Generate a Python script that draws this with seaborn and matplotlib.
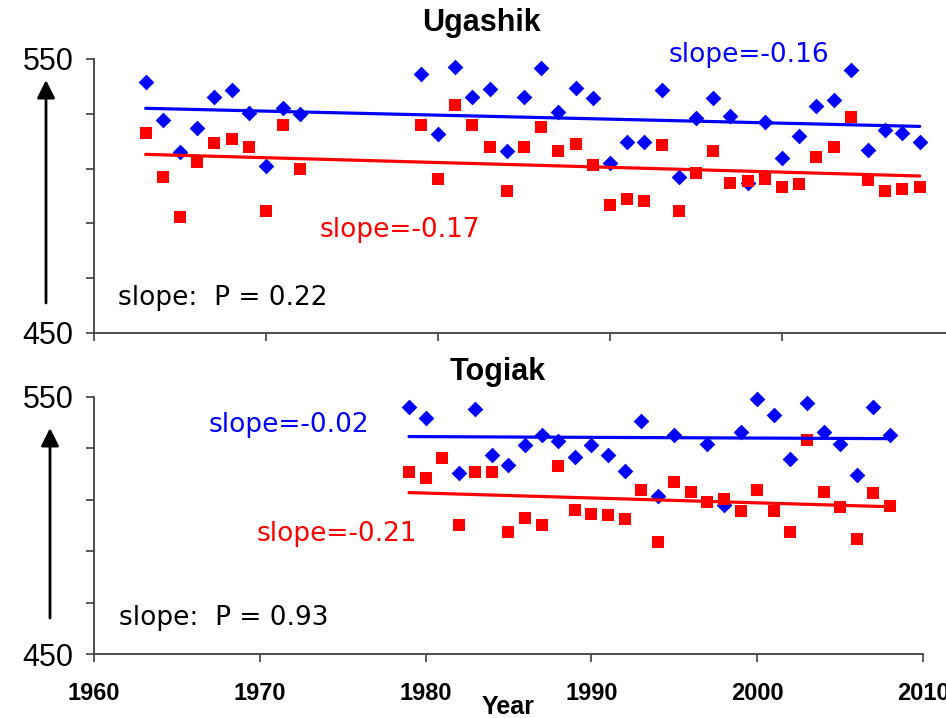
import matplotlib.pyplot as plt
import numpy as np
import pandas as pd
import seaborn as sns

# Ugashik (top panel)
ug_years = [1963, 1964, 1965, 1966, 1967, 1968, 1969, 1970, 1971, 1972,
            1979, 1980, 1981, 1982, 1983, 1984, 1985, 1986, 1987, 1988,
            1989, 1990, 1991, 1992, 1993, 1994, 1995, 1996, 1997, 1998,
            1999, 2000, 2001, 2002, 2003, 2004, 2005, 2006, 2007, 2008]
ug_blue = [541.5, 527.7, 516.0, 525.0, 536.3, 538.7, 530.4, 510.8, 532.0, 530.0,
           544.5, 522.6, 547.2, 536.3, 539.2, 516.5, 536.3, 546.6, 530.8, 539.3,
           535.6, 511.9, 519.6, 519.6, 538.6, 507.0, 528.4, 535.6, 529.3, 504.6,
           526.9, 513.8, 521.9, 532.8, 535.0, 546.0, 516.8, 524.1, 523.1, 519.6]
ug_red = [522.9, 507.0, 492.4, 512.5, 519.2, 520.8, 517.8, 494.5, 525.8, 509.7,
          525.8, 506.1, 533.1, 525.8, 517.8, 501.8, 517.8, 525.2, 516.4, 519.0,
          511.3, 496.7, 499.0, 498.2, 518.6, 494.5, 508.3, 516.4, 504.6, 505.5,
          506.2, 503.4, 504.3, 514.3, 517.8, 528.8, 505.8, 501.8, 502.6, 503.2]
# fitted trend lines as drawn (first and last year)
ug_trend_years = [1963, 2008]
ug_blue_trend = [532.0, 525.4]
ug_red_trend = [515.2, 507.3]

# Togiak (bottom panel), no blue value in 1981 and 1996
tg_years = [1979, 1980, 1981, 1982, 1983, 1984, 1985, 1986, 1987, 1988,
            1989, 1990, 1991, 1992, 1993, 1994, 1995, 1996, 1997, 1998,
            1999, 2000, 2001, 2002, 2003, 2004, 2005, 2006, 2007, 2008]
tg_blue = [546.0, 542.0, np.nan, 520.4, 545.2, 527.3, 523.5, 531.2, 535.2, 532.9,
           526.7, 531.2, 527.3, 521.2, 540.7, 511.6, 535.1, np.nan, 531.7, 508.0,
           536.3, 549.2, 543.0, 525.9, 547.7, 536.4, 531.7, 519.6, 546.0, 535.3]
tg_red = [520.8, 518.6, 526.4, 500.2, 520.8, 520.8, 497.6, 503.0, 500.2, 523.2,
          506.0, 504.5, 504.0, 502.4, 513.8, 493.6, 516.9, 513.2, 509.3, 510.3,
          505.8, 513.8, 505.8, 497.6, 533.3, 513.2, 507.1, 494.6, 512.5, 507.6]
tg_trend_years = [1979, 2008]
tg_blue_trend = [534.6, 533.8]
tg_red_trend = [512.8, 507.3]

sns.set_style('ticks')
plt.rcParams['font.family'] = ['Liberation Sans', 'DejaVu Sans']
plt.rcParams['text.color'] = 'black'
plt.rcParams['axes.labelcolor'] = 'black'
plt.rcParams['xtick.labelcolor'] = 'black'
plt.rcParams['ytick.labelcolor'] = 'black'

BLUE = '#0000ff'
RED = '#ff0000'
AXC = '#404040'

fig = plt.figure(figsize=(9.46, 7.18), dpi=100)
ax_top = fig.add_axes([94 / 946, 1 - 333 / 718, 852 / 946, 274 / 718])
ax_bot = fig.add_axes([94 / 946, 1 - 654 / 718, 829 / 946, 257 / 718])


def draw_panel(ax, years, blue, red, t_years, blue_trend, red_trend):
    df = pd.DataFrame({'year': years, 'blue': blue, 'red': red})
    sns.scatterplot(x='year', y='blue', data=df, ax=ax, marker='D', s=64,
                    color=BLUE, linewidth=0, zorder=3, clip_on=False)
    sns.scatterplot(x='year', y='red', data=df, ax=ax, marker='s', s=84,
                    color=RED, linewidth=0, zorder=4, clip_on=False)
    sns.lineplot(x=t_years, y=blue_trend, ax=ax, color=BLUE, lw=2.3, zorder=5)
    sns.lineplot(x=t_years, y=red_trend, ax=ax, color=RED, lw=2.3, zorder=5)

    ax.set_ylim(450, 550)
    ax.set_yticks([450, 470, 490, 510, 530, 550])
    ax.set_yticklabels(['450', '', '', '', '', '550'], fontsize=22)
    ax.set_xlabel('')
    ax.set_ylabel('')
    sns.despine(ax=ax)
    for side in ['left', 'bottom']:
        ax.spines[side].set_color(AXC)
        ax.spines[side].set_linewidth(1.3)
    ax.tick_params(direction='out', length=5.8, width=1.2, color=AXC)
    ax.tick_params(axis='y', pad=9)


draw_panel(ax_top, ug_years, ug_blue, ug_red,
           ug_trend_years, ug_blue_trend, ug_red_trend)
draw_panel(ax_bot, tg_years, tg_blue, tg_red,
           tg_trend_years, tg_blue_trend, tg_red_trend)

# top panel: tick marks only
ax_top.set_xlim(1960, 2009.53)
ax_top.set_xticks([1960, 1970, 1980, 1990, 2000])
ax_top.set_xticklabels([])

ax_bot.set_xlim(1960, 2010)
ax_bot.set_xticks([1960, 1970, 1980, 1990, 2000, 2010])
ax_bot.set_xticklabels(['1960', '1970', '1980', '1990', '2000', '2010'],
                       fontsize=17, fontweight='bold')
ax_bot.tick_params(axis='x', pad=14)
ax_bot.set_xlabel('Year', fontsize=18, fontweight='bold')
ax_bot.xaxis.set_label_coords(0.5, -0.16)

ax_top.set_title('Ugashik', fontsize=22, fontweight='bold', x=0.455, y=1.131,
                 va='center', pad=0)
ax_bot.set_title('Togiak', fontsize=22, fontweight='bold', x=0.487, y=1.097,
                 va='center', pad=0)

# slope annotations
lab = dict(fontsize=19, family='DejaVu Sans', va='center', ha='left')
ax_top.text(1993.4, 551.5, 'slope=-0.16', color=BLUE, clip_on=False, **lab)
ax_top.text(1973.1, 487.6, 'slope=-0.17', color=RED, **lab)
ax_top.text(1961.4, 462.8, 'slope:  P = 0.22', color='black', **lab)
ax_bot.text(1966.9, 539.1, 'slope=-0.02', color=BLUE, **lab)
ax_bot.text(1969.8, 496.7, 'slope=-0.21', color=RED, **lab)
ax_bot.text(1961.5, 464.0, 'slope:  P = 0.93', color='black', **lab)

# upward arrows beside the y axes
arrow = dict(arrowstyle='-|>', lw=2, color='black', mutation_scale=27,
             shrinkA=0, shrinkB=0)
ax_top.annotate('', xy=(46, 718 - 80), xytext=(46, 718 - 303),
                xycoords='figure pixels', textcoords='figure pixels',
                arrowprops=arrow, annotation_clip=False)
ax_bot.annotate('', xy=(50, 718 - 428), xytext=(50, 718 - 618),
                xycoords='figure pixels', textcoords='figure pixels',
                arrowprops=arrow, annotation_clip=False)

fig.savefig('out.png', dpi=100)
